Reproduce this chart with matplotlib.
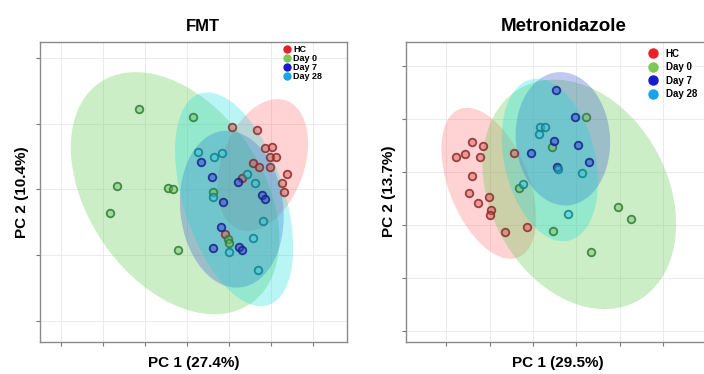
import numpy as np
import matplotlib.pyplot as plt
from matplotlib.patches import Ellipse
from matplotlib.lines import Line2D
from matplotlib.colors import to_rgba

plt.rcParams['font.family'] = ['Liberation Sans', 'DejaVu Sans']

groups = ["HC", "Day 0", "Day 7", "Day 28"]
dot_colors = ["#E8202A", "#7DC855", "#1A1ACD", "#1AA3E8"]
point_fill = ["#D9534F", "#6CC060", "#2A3CC8", "#3CC8D8"]
edge_colors = ["#8C2A2A", "#2E7A36", "#1A1E8C", "#0E7F8C"]
fill_colors = ["#FF3B3B", "#66CC55", "#3050D0", "#00DDDD"]
fill_alpha = [0.22, 0.33, 0.30, 0.27]

# ---- FMT scores (PC1, PC2) ----
fmt_hc_x = [2.16, 3.35, 3.70, 4.05, 3.97, 4.22, 3.16, 3.44, 3.97, 4.78, 4.51, 4.60, 2.60, 1.80]
fmt_hc_y = [2.86, 2.71, 1.87, 1.92, 1.49, 1.47, 1.19, 1.03, 1.03, 0.71, 0.29, -0.14, 0.53, -2.05]
fmt_d0_x = [-2.27, 0.30, -3.32, -3.67, -0.92, -0.65, -0.44, 1.22, 1.95, 2.00]
fmt_d0_y = [3.65, 3.32, 0.15, -1.10, 0.07, 0.01, -2.77, -0.14, -2.28, -2.47]
fmt_d7_x = [0.67, 1.19, 2.44, 1.70, 3.57, 3.70, 1.62, 1.24, 2.46, 2.63]
fmt_d7_y = [1.26, 0.58, 0.35, -0.57, -0.26, -0.44, -1.71, -2.67, -2.62, -2.77]
fmt_d28_x = [0.54, 1.30, 1.65, 2.87, 3.25, 1.25, 3.63, 3.13, 1.99, 3.40]
fmt_d28_y = [1.72, 1.47, 1.67, 0.71, 0.30, -0.34, -1.45, -2.24, -2.85, -3.70]

# ellipses: centre x, centre y, width, height, angle
fmt_ell_cx = [3.60, -0.57, 2.13, 2.24]
fmt_ell_cy = [1.11, -0.18, -0.91, -0.46]
fmt_ell_w = [6.3, 12.4, 7.2, 10.2]
fmt_ell_h = [3.9, 8.2, 4.9, 4.8]
fmt_ell_ang = [68, 127, 97, 109]

# ---- Metronidazole scores ----
met_hc_x = [-2.83, -2.32, -3.57, -3.14, -2.45, -0.88, -2.80, -2.97, -2.52, -2.03, -1.95, -1.98, -1.31, -0.29]
met_hc_y = [1.42, 1.25, 0.74, 0.86, 0.74, 0.90, -0.17, -0.99, -1.43, -1.15, -1.78, -2.01, -2.82, -2.57]
met_d0_x = [0.86, 2.46, -0.66, 0.92, 2.68, 3.92, 4.51]
met_d0_y = [1.21, 2.62, -0.75, -2.75, -3.75, -1.65, -2.20]
met_d7_x = [1.05, 1.95, 0.96, -0.11, 2.09, 2.57, 1.11]
met_d7_y = [3.88, 2.62, 1.49, 0.92, 1.30, 0.49, 0.25]
met_d28_x = [0.32, 0.57, 0.29, 1.14, 2.25, -0.45, 1.60]
met_d28_y = [2.15, 2.12, 1.79, 0.17, -0.02, -0.55, -1.98]

met_ell_cx = [-2.04, 2.14, 1.38, 0.78]
met_ell_cy = [-0.52, -1.04, 1.58, 0.58]
met_ell_w = [7.5, 11.4, 6.3, 7.8]
met_ell_h = [3.7, 8.2, 4.35, 4.2]
met_ell_ang = [111, 116.7, 94, 102.7]


def draw_panel(ax, xs, ys, ecx, ecy, ew, eh, eang):
    for i in range(4):
        ax.add_patch(Ellipse((ecx[i], ecy[i]), ew[i], eh[i], angle=eang[i],
                             facecolor=fill_colors[i], alpha=fill_alpha[i],
                             edgecolor="none", zorder=1))
    for i in range(4):
        ax.scatter(xs[i], ys[i], s=30, facecolor=to_rgba(point_fill[i], 0.45),
                   edgecolor=to_rgba(edge_colors[i], 0.85), linewidth=1.3, zorder=3)
    ax.grid(True, color="#ebebeb", linewidth=0.7, zorder=0)
    ax.set_axisbelow(True)
    ax.tick_params(length=3, width=0.8, color="#777777", labelleft=False, labelbottom=False)
    for s in ax.spines.values():
        s.set_color("#8a8a8a")
        s.set_linewidth(1.0)


fig = plt.figure(figsize=(7.04, 3.74), dpi=100)
ax1 = fig.add_axes([0.0568, 0.0848, 0.4357, 0.8037])
ax2 = fig.add_axes([0.5767, 0.0864, 0.4318, 0.8021])

draw_panel(ax1, [fmt_hc_x, fmt_d0_x, fmt_d7_x, fmt_d28_x],
           [fmt_hc_y, fmt_d0_y, fmt_d7_y, fmt_d28_y],
           fmt_ell_cx, fmt_ell_cy, fmt_ell_w, fmt_ell_h, fmt_ell_ang)
ax1.set_xlim(-7.0, 7.6)
ax1.set_ylim(-6.99, 6.74)
ax1.set_xticks([-6, -4, -2, 0, 2, 4, 6])
ax1.set_yticks([-6, -3, 0, 3, 6])
ax1.set_title("FMT", fontsize=12, fontweight="bold", x=0.531, pad=8)
ax1.set_xlabel("PC 1 (27.4%)", fontsize=11, fontweight="bold", labelpad=7)
ax1.set_ylabel("PC 2 (10.4%)", fontsize=11, fontweight="bold", labelpad=5)

draw_panel(ax2, [met_hc_x, met_d0_x, met_d7_x, met_d28_x],
           [met_hc_y, met_d0_y, met_d7_y, met_d28_y],
           met_ell_cx, met_ell_cy, met_ell_w, met_ell_h, met_ell_ang)
ax2.set_xlim(-5.86, 8.17)
ax2.set_ylim(-7.99, 6.16)
ax2.set_xticks([-4, -2, 0, 2, 4, 6])
ax2.set_yticks([-7.5, -5, -2.5, 0, 2.5, 5])
ax2.set_title("Metronidazole", fontsize=13.5, fontweight="bold", x=0.519, pad=8)
ax2.set_xlabel("PC 1 (29.5%)", fontsize=11, fontweight="bold", labelpad=7)
ax2.set_ylabel("PC 2 (13.7%)", fontsize=11, fontweight="bold", labelpad=4.5)

handles1 = [Line2D([], [], linestyle="none", marker="o", markersize=5,
                   markerfacecolor=c, markeredgecolor=c) for c in dot_colors]
ax1.legend(handles1, groups, loc="upper left", bbox_to_anchor=(0.790, 0.990),
           frameon=False, borderpad=0, borderaxespad=0, handlelength=1,
           handletextpad=0.2, labelspacing=0.0,
           prop={"size": 6.5, "weight": "bold"})

handles2 = [Line2D([], [], linestyle="none", marker="o", markersize=6.5,
                   markerfacecolor=c, markeredgecolor=c) for c in dot_colors]
ax2.legend(handles2, groups, loc="upper left", bbox_to_anchor=(0.797, 0.976),
           frameon=False, borderpad=0, borderaxespad=0, handlelength=1,
           handletextpad=0.8, labelspacing=0.36,
           prop={"size": 7, "weight": "bold"})

fig.savefig("out.png", dpi=100)
